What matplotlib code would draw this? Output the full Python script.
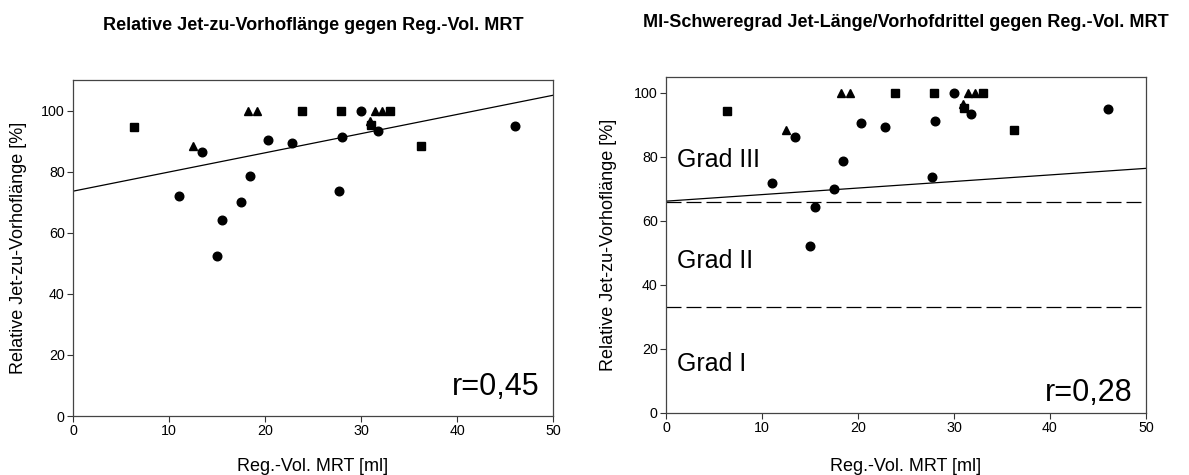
import matplotlib

matplotlib.use("Agg")

import matplotlib.pyplot as plt

plt.rcParams["font.family"] = ["Liberation Sans", "DejaVu Sans"]

# Daten (Reg.-Vol. MRT [ml], relative Jet-zu-Vorhoflaenge [%])
kreis_x = [11.0, 13.4, 15.0, 15.5, 17.5, 18.4, 20.3, 22.8, 27.7, 28.0, 30.0, 31.8, 46.0]
kreis_y = [72.0, 86.4, 52.3, 64.3, 69.9, 78.7, 90.5, 89.4, 73.8, 91.3, 100.0, 93.3, 95.1]

quadrat_x = [6.4, 23.9, 27.9, 33.0, 31.0, 36.3]
quadrat_y = [94.5, 100.0, 100.0, 100.0, 95.3, 88.3]

dreieck_x = [12.5, 18.2, 19.2, 31.5, 32.2, 30.9]
dreieck_y = [88.4, 100.0, 100.0, 100.0, 100.0, 96.6]

# Regressionsgeraden (Achsenabschnitt, Steigung)
reg_links = (73.6, 0.628)
reg_rechts = (66.2, 0.205)

grad_grenzen = [33, 66]
grad_namen = ["Grad I", "Grad II", "Grad III"]
grad_text_y = [15.3, 47.6, 79.0]

titel = [
    "Relative Jet-zu-Vorhoflänge gegen Reg.-Vol. MRT",
    "MI-Schweregrad Jet-Länge/Vorhofdrittel gegen Reg.-Vol. MRT",
]
r_werte = ["r=0,45", "r=0,28"]
r_text_y = [9.6, 6.3]

fig = plt.figure(figsize=(11.89, 4.75), dpi=100)
ax1 = fig.add_axes([73 / 1189, 59 / 475, 480 / 1189, 336 / 475])
ax2 = fig.add_axes([666 / 1189, 62 / 475, 480 / 1189, 336 / 475])


def streudiagramm(ax, ymax, reg, r_text, r_y, titel_text, xlabel_y, ylabel_x):
    ax.plot(kreis_x, kreis_y, "o", color="black", markersize=6.2, zorder=3)
    ax.plot(quadrat_x, quadrat_y, "s", color="black", markersize=5.4, zorder=3)
    ax.plot(dreieck_x, dreieck_y, "^", color="black", markersize=6.2, zorder=3)

    xs = [0, 50]
    ax.plot(xs, [reg[0] + reg[1] * x for x in xs], color="black", lw=0.9, zorder=2)

    ax.set_xlim(0, 50)
    ax.set_ylim(0, ymax)
    ax.set_xticks([0, 10, 20, 30, 40, 50])
    ax.set_yticks([0, 20, 40, 60, 80, 100])
    ax.tick_params(direction="out", length=4, width=0.8, labelsize=10.3,
                   pad=2, top=False, right=False, color="#333333")
    for s in ax.spines.values():
        s.set_linewidth(0.9)
        s.set_color("#444444")

    ax.set_xlabel("Reg.-Vol. MRT [ml]", fontsize=13)
    ax.set_ylabel("Relative Jet-zu-Vorhoflänge [%]", fontsize=13)
    ax.xaxis.set_label_coords(0.5, xlabel_y)
    ax.yaxis.set_label_coords(ylabel_x, 0.5)

    ax.text(48.6, r_y, r_text, fontsize=22, ha="right", va="center")
    ax.set_title(titel_text, fontsize=13, fontweight="bold", pad=36)


streudiagramm(ax1, 110, reg_links, r_werte[0], r_text_y[0], titel[0], -0.125, -0.096)
streudiagramm(ax2, 105, reg_rechts, r_werte[1], r_text_y[1], titel[1], -0.134, -0.102)

for g in grad_grenzen:
    ax2.axhline(g, color="black", lw=0.9, dashes=(12, 4), zorder=1)
for name, y in zip(grad_namen, grad_text_y):
    ax2.text(1.1, y, name, fontsize=18, ha="left", va="center")

fig.savefig("out.png", dpi=100)
